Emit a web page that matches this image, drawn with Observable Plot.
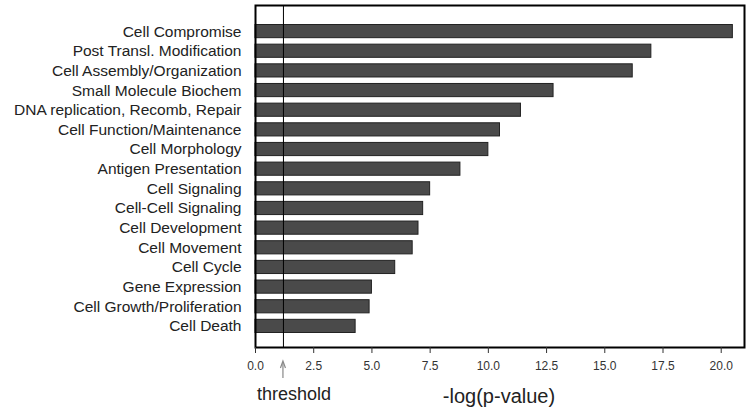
<!DOCTYPE html>
<html><head><meta charset="utf-8">
<script src="https://cdn.jsdelivr.net/npm/d3@7"></script>
<script src="https://cdn.jsdelivr.net/npm/@observablehq/plot@0.6"></script>
<style>body{margin:0;background:#fff;font-family:"Liberation Sans",Arial,sans-serif}</style>
</head><body><div id="chart"></div>
<script>
const categories = ["Cell Compromise","Post Transl. Modification","Cell Assembly/Organization","Small Molecule Biochem","DNA replication, Recomb, Repair","Cell Function/Maintenance","Cell Morphology","Antigen Presentation","Cell Signaling","Cell-Cell Signaling","Cell Development","Cell Movement","Cell Cycle","Gene Expression","Cell Growth/Proliferation","Cell Death"];
const values = [20.5,17.0,16.2,12.8,11.4,10.5,10.0,8.8,7.5,7.2,7.0,6.75,6.0,5.0,4.9,4.3];
const xTicks = [0,2.5,5,7.5,10,12.5,15,17.5,20];
const threshold = [1.2];
const data = categories.map((c,i)=>({category:c, value:values[i]}));

const annot = (index, scales, values, dims) => {
  const g = d3.create("svg:g");
  const xt = scales.x(threshold[0]);
  g.append("line").attr("x1",xt).attr("x2",xt).attr("y1",378).attr("y2",362)
    .attr("stroke","#888").attr("stroke-width",1.2);
  g.append("path").attr("d",`M${xt-2.5},${368}L${xt},${361}L${xt+2.5},${368}`)
    .attr("fill","none").attr("stroke","#888").attr("stroke-width",1.2);
  g.append("text").attr("x",dims.marginLeft + 2).attr("y",400)
    .style("font-size","18px").style("text-anchor","start")
    .attr("fill","#222").text("threshold");
  g.append("text").attr("x",499).attr("y",403)
    .style("font-size","20px").style("text-anchor","middle")
    .attr("fill","#222").text("-log(p-value)");
  return g.node();
};

const plot = Plot.plot({
  width: 750, height: 412,
  marginLeft: 255, marginRight: 6, marginTop: 5, marginBottom: 65,
  style: {fontFamily: '"Liberation Sans", Arial, sans-serif', background: "#fff"},
  x: {domain: [0, 21], label: null},
  y: {domain: categories, range: [24.5, 332.5], paddingInner: 0.33, paddingOuter: 0, round: false, label: null},
  marks: [
    Plot.barX(data, {y: "category", x: "value", fill: "#4a4a4a", stroke: "#222", strokeWidth: 1}),
    Plot.ruleX(threshold, {stroke: "#000", strokeWidth: 1}),
    Plot.frame({stroke: "#000", strokeWidth: 2}),
    Plot.axisX({ticks: xTicks, tickFormat: d3.format(".1f"), tickSize: 6, tickPadding: 8, fontSize: 12, color: "#333", label: null}),
    Plot.axisY({tickSize: 0, tickPadding: 14, fontSize: 15.5, color: "#222", label: null}),
    annot
  ]
});
document.getElementById("chart").appendChild(plot);
</script></body></html>
